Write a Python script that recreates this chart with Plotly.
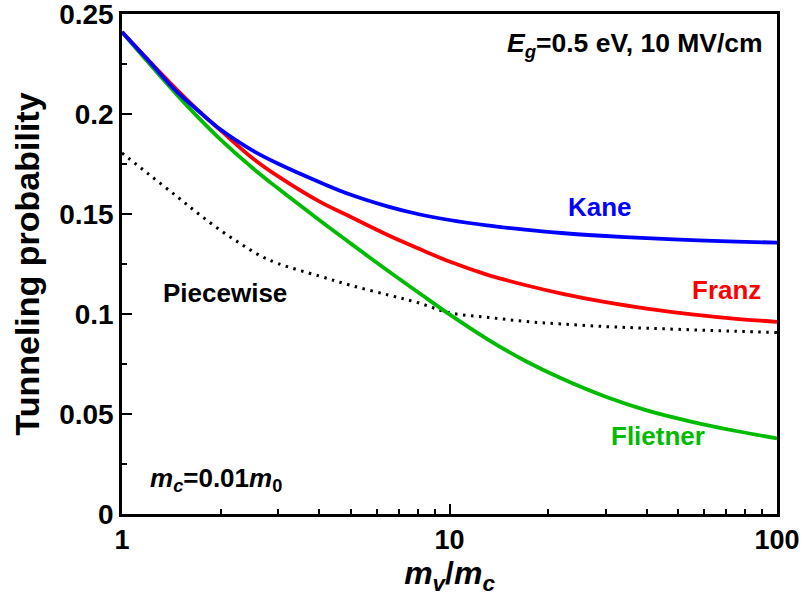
import math
import plotly.graph_objects as go

# Effective-mass ratio m_v / m_c
mass_ratio = [1, 1.2, 1.47, 1.7, 2, 2.5, 3, 4, 5, 6.5, 8, 10, 13, 17, 22, 30, 40, 55, 75, 100]

# Tunneling probability for each two-band model
kane = [0.241, 0.2270, 0.2112, 0.2020, 0.1922, 0.1818, 0.1751, 0.1660, 0.1596, 0.1537,
        0.1500, 0.1470, 0.1443, 0.1422, 0.1405, 0.1390, 0.1379, 0.1369, 0.1362, 0.1357]
franz = [0.241, 0.2272, 0.2122, 0.2021, 0.1918, 0.1780, 0.1688, 0.1563, 0.1485, 0.1394,
         0.1329, 0.1262, 0.1197, 0.1145, 0.1102, 0.1059, 0.1027, 0.0998, 0.0976, 0.0961]
flietner = [0.241, 0.2260, 0.2097, 0.1987, 0.1872, 0.1731, 0.1627, 0.1470, 0.1352, 0.1215,
            0.1110, 0.0998, 0.0876, 0.0766, 0.0677, 0.0586, 0.0518, 0.0461, 0.0415, 0.0378]

# Piecewise model (sampled a little more densely around its bend)
mass_ratio_pw = [1, 1.2, 1.47, 1.7, 2, 2.3, 2.6, 3, 4, 5, 6.5, 8, 10, 13, 17, 22, 30, 40, 55, 75, 100]
piecewise = [0.1805, 0.1702, 0.1588, 0.1505, 0.1418, 0.1352, 0.1298, 0.1252, 0.1190, 0.1143,
             0.1095, 0.1057, 0.1006, 0.0984, 0.0963, 0.0950, 0.0937, 0.0929, 0.0921, 0.0914, 0.0907]

x_major = [1, 10, 100]
x_minor = [2, 3, 4, 5, 6, 7, 8, 9, 20, 30, 40, 50, 60, 70, 80, 90]
y_major = [0, 0.05, 0.1, 0.15, 0.2, 0.25]
y_labels = ["0", "0.05", "0.1", "0.15", "0.2", "0.25"]

FONT = "Liberation Sans, Arial, sans-serif"
BLUE, RED, GREEN = "#0000FF", "#FF0000", "#00BB00"

fig = go.Figure()
fig.add_trace(go.Scatter(x=mass_ratio_pw, y=piecewise, mode="lines",
                         line=dict(color="black", width=3, dash="2.5px,5.5px", shape="spline")))
fig.add_trace(go.Scatter(x=mass_ratio, y=flietner, mode="lines",
                         line=dict(color=GREEN, width=3.8, shape="spline")))
fig.add_trace(go.Scatter(x=mass_ratio, y=franz, mode="lines",
                         line=dict(color=RED, width=3.8, shape="spline")))
fig.add_trace(go.Scatter(x=mass_ratio, y=kane, mode="lines",
                         line=dict(color=BLUE, width=3.8, shape="spline")))

# Curve labels (x given in m_v/m_c, converted for the log axis)
labels = [
    ("Kane", 28.8, 0.1535, BLUE),
    ("Franz", 70.3, 0.1120, RED),
    ("Flietner", 43.3, 0.0390, GREEN),
    ("Piecewise", 2.06, 0.1105, "black"),
]
for text, xv, yv, col in labels:
    fig.add_annotation(x=math.log10(xv), y=yv, xref="x", yref="y", text=text, showarrow=False,
                       xanchor="center", yanchor="middle",
                       font=dict(family=FONT, size=26, color=col, weight="bold"))

fig.add_annotation(x=0.982, y=0.938, xref="paper", yref="paper",
                   text="<i>E<sub>g</sub></i>=0.5 eV, 10 MV/cm", showarrow=False,
                   xanchor="right", yanchor="middle",
                   font=dict(family=FONT, size=26.5, color="black", weight="bold"))
fig.add_annotation(x=0.040, y=0.068, xref="paper", yref="paper",
                   text="<i>m<sub>c</sub></i>=0.01<i>m</i><sub>0</sub>", showarrow=False,
                   xanchor="left", yanchor="middle",
                   font=dict(family=FONT, size=26, color="black", weight="bold"))

fig.update_layout(
    width=803, height=603,
    margin=dict(l=122, r=26, t=14, b=89),
    paper_bgcolor="white", plot_bgcolor="white",
    showlegend=False,
    font=dict(family=FONT, color="black"),
    xaxis=dict(
        type="log", range=[0, 2], automargin=False, ticklabeloverflow="allow",
        tickvals=x_major, ticktext=["1", "10", "100"],
        ticks="inside", ticklen=10, tickwidth=2, tickcolor="black",
        minor=dict(tickvals=x_minor, ticks="inside", ticklen=5, tickwidth=2, tickcolor="black"),
        showline=True, linewidth=2.5, linecolor="black", mirror=True,
        showgrid=False, zeroline=False,
        tickfont=dict(family=FONT, size=27, color="black", weight="bold"),
        title=dict(text="<i>m<sub>v</sub></i>/<i>m<sub>c</sub></i>", standoff=4,
                   font=dict(family=FONT, size=32, color="black", weight="bold")),
    ),
    yaxis=dict(
        range=[0, 0.25], automargin=False, ticklabeloverflow="allow",
        tickvals=y_major, ticktext=y_labels,
        ticks="inside", ticklen=10, tickwidth=2, tickcolor="black",
        minor=dict(dtick=0.025, ticks="inside", ticklen=5, tickwidth=2, tickcolor="black"),
        showline=True, linewidth=2.5, linecolor="black", mirror=True,
        showgrid=False, zeroline=False,
        tickfont=dict(family=FONT, size=28, color="black", weight="bold"),
        title=dict(text="Tunneling probability", standoff=10,
                   font=dict(family=FONT, size=34, color="black", weight="bold")),
    ),
)

fig.write_html("out.html")
